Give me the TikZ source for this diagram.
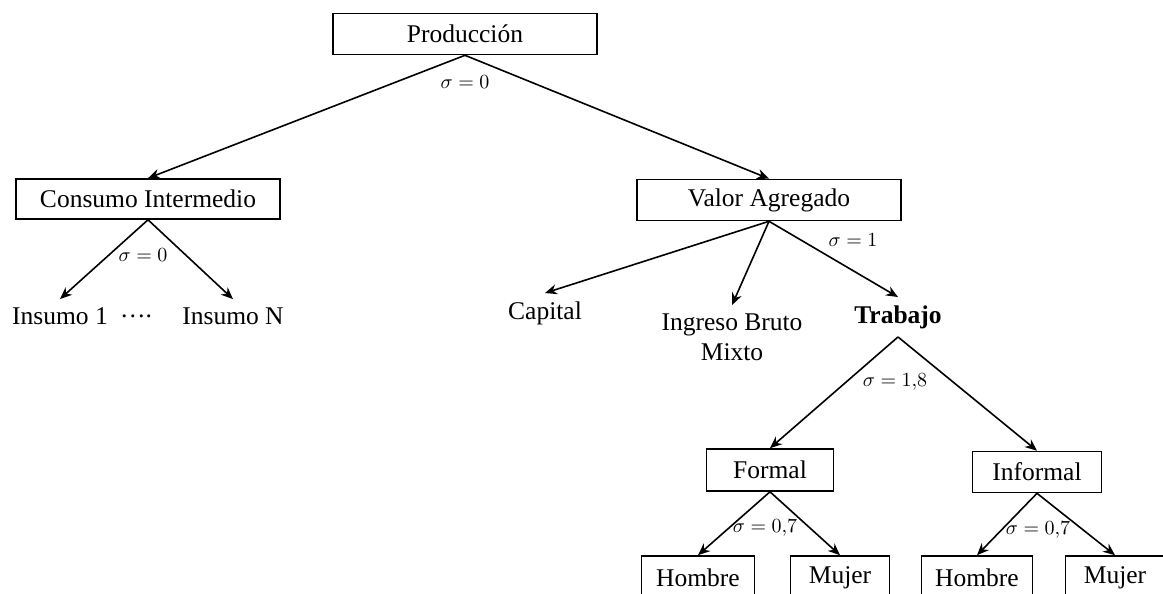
\documentclass[tikz,border=0pt]{standalone}
\usepackage{fontspec}
\setmainfont{Liberation Serif}
\usepackage{amsmath}
\usepackage{tikz}
\usetikzlibrary{arrows.meta}

\begin{document}
\begin{tikzpicture}[x=0.5pt, y=-0.5pt,
	box/.style={draw=black, line width=0.8pt, inner sep=0pt, font=\fontsize{12.75}{15}\selectfont},
	word/.style={inner sep=4pt, align=center, font=\fontsize{12.75}{15}\selectfont},
	sig/.style={inner sep=1pt, font=\fontsize{10}{12}\selectfont},
	arr/.style={-{Stealth[length=6pt, width=5pt]}, line width=0.8pt}]
	\clip (0,0) rectangle (1163,594);
	\fill[white] (0,0) rectangle (1163,594);
	% boxes
	\node[box, minimum width=132pt, minimum height=20.5pt](prod) at (465,34){Producción};
	\node[box, minimum width=132pt, minimum height=20pt](ci) at (148,199){Consumo Intermedio};
	\node[box, minimum width=132pt, minimum height=20.5pt](va) at (769,200){Valor Agregado};
	\node[box, minimum width=63.5pt, minimum height=21pt](formal) at (770,470){Formal};
	\node[box, minimum width=64.5pt, minimum height=20.5pt](informal) at (1037,472){Informal};
	\node[box, minimum width=56.5pt, minimum height=22pt](h1) at (698,578){Hombre};
	\node[box, minimum width=49.5pt, minimum height=22pt](m1) at (840,578){Mujer};
	\node[box, minimum width=55.5pt, minimum height=22pt](h2) at (977,578){Hombre};
	\node[box, minimum width=49.5pt, minimum height=22pt](m2) at (1115,578){Mujer};
	% plain text
	\node[word](ins1) at (60,316){Insumo 1};
	\node[word](dots) at (136,316){….};
	\node[word](insN) at (233,316){Insumo N};
	\node[word](cap) at (545,313){Capital};
	\node[word](ibm) at (732,337){Ingreso Bruto\\Mixto};
	\node[word, font=\fontsize{12.75}{15}\selectfont\bfseries](trab) at (898,317){Trabajo};
	% elasticities
	\node[sig](s0) at (465,82){$\sigma = 0$};
	\node[sig](s1) at (143,255){$\sigma = 0$};
	\node[sig](s2) at (853,240){$\sigma = 1$};
	\node[sig](s3) at (895,382){$\sigma = 1{,}8$};
	\node[sig](s4) at (765,528){$\sigma = 0{,}7$};
	\node[sig](s5) at (1038,530){$\sigma = 0{,}7$};
	% connectors
	\draw[arr](prod.south) -- (ci.north);
	\draw[arr](prod.south) -- (va.north);
	\draw[arr](ci.south) -- (ins1.north);
	\draw[arr](ci.south) -- (insN.north);
	\draw[arr](va.south) -- (cap.north);
	\draw[arr](va.south) -- (ibm.north);
	\draw[arr](va.south) -- (trab.north);
	\draw[arr](trab.south) -- (formal.north);
	\draw[arr](trab.south) -- (informal.north);
	\draw[arr](formal.south) -- (h1.north);
	\draw[arr](formal.south) -- (m1.north);
	\draw[arr](informal.south) -- (h2.north);
	\draw[arr](informal.south) -- (m2.north);
\end{tikzpicture}
\end{document}
